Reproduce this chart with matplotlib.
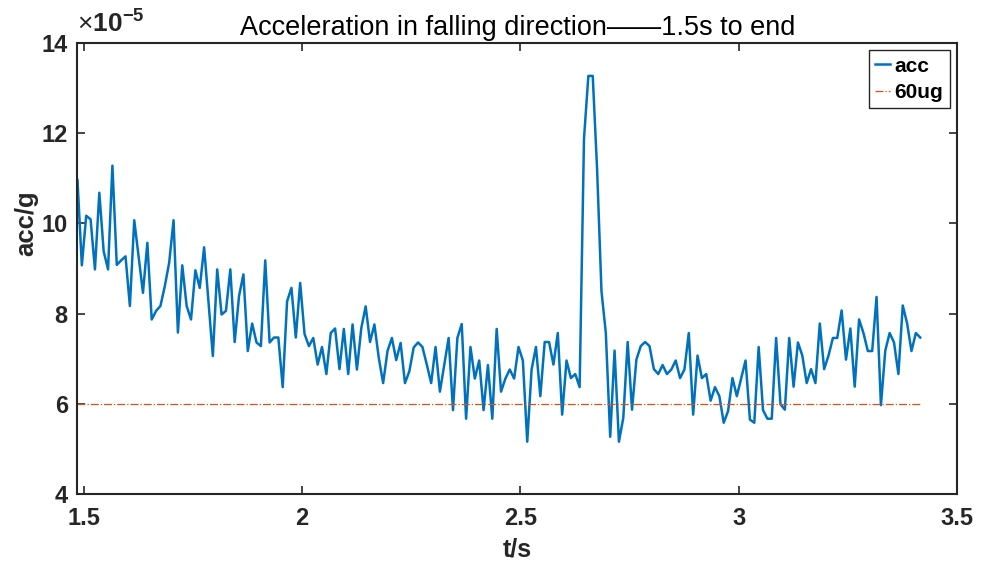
import numpy as np
import matplotlib
matplotlib.use("Agg")
import matplotlib.pyplot as plt

plt.rcParams['font.family'] = ['Liberation Sans', 'DejaVu Sans']
plt.rcParams['mathtext.fontset'] = 'custom'
plt.rcParams['mathtext.rm'] = 'Liberation Sans'
plt.rcParams['mathtext.bf'] = 'Liberation Sans:bold'

# sampling of the record (s)
t0 = 1.486
dt = 0.01

# acceleration in falling direction, units of 1e-5 g
acc = [10.96, 9.07, 10.17, 10.09, 8.98, 10.68, 9.38, 8.98, 11.28, 9.08,
       9.18, 9.27, 8.17, 10.07, 9.27, 8.46, 9.57, 7.87, 8.06, 8.17,
       8.61, 9.13, 10.07, 7.58, 9.07, 8.17, 7.87, 8.96, 8.57, 9.47,
       8.26, 7.06, 8.98, 7.98, 8.06, 8.98, 7.37, 8.39, 8.87, 7.17,
       7.78, 7.36, 7.28, 9.18, 7.36, 7.47, 7.47, 6.37, 8.27, 8.57,
       7.47, 8.68, 7.55, 7.28, 7.46, 6.87, 7.26, 6.66, 7.57, 7.67,
       6.77, 7.66, 6.66, 7.76, 6.76, 7.68, 8.16, 7.37, 7.76, 7.02,
       6.46, 7.17, 7.46, 6.97, 7.35, 6.46, 6.72, 7.25, 7.36, 7.26,
       6.87, 6.46, 7.26, 6.27, 6.87, 7.46, 5.86, 7.46, 7.77, 5.67,
       7.26, 6.56, 6.96, 5.86, 6.86, 5.67, 7.66, 6.27, 6.56, 6.76,
       6.56, 7.26, 6.96, 5.16, 6.76, 7.26, 6.17, 7.37, 7.37, 6.87,
       7.57, 5.76, 6.96, 6.57, 6.66, 6.37, 11.88, 13.27, 13.27, 11.2,
       8.5, 7.57, 5.27, 7.18, 5.16, 5.69, 7.37, 5.87, 6.98, 7.28,
       7.37, 7.28, 6.77, 6.66, 6.86, 6.66, 6.76, 6.96, 6.57, 6.76,
       7.57, 5.76, 7.07, 6.57, 6.66, 6.07, 6.37, 6.17, 5.58, 5.84,
       6.57, 6.17, 6.57, 6.96, 5.65, 5.58, 7.26, 5.86, 5.67, 5.67,
       7.46, 5.99, 5.87, 7.46, 6.38, 7.36, 7.07, 6.46, 6.77, 6.46,
       7.78, 6.77, 7.07, 7.46, 7.46, 8.07, 6.98, 7.67, 6.38, 7.87,
       7.57, 7.17, 7.17, 8.37, 5.97, 7.18, 7.57, 7.36, 6.66, 8.18,
       7.78, 7.17, 7.57, 7.47]
limit_ug = 60  # 60 ug threshold

xticks = [1.5, 2, 2.5, 3, 3.5]
yticks = [4, 6, 8, 10, 12, 14]

t = t0 + dt * np.arange(len(acc))
a = np.array(acc) * 1e-5
lim = np.full(len(t), limit_ug * 1e-6)

fig = plt.figure(figsize=(9.87, 5.67), dpi=100)
ax = fig.add_axes([0.0785, 0.1287, 0.891, 0.7955])

ax.plot(t, a, color='#0072BD', lw=1.8, label='acc')
ax.plot(t, lim, color='#D95319', lw=0.9, ls='-.', label='60ug')

ax.set_xlim(t0, 3.5)
ax.set_ylim(4e-5, 14e-5)
ax.set_xticks(xticks)
ax.set_xticklabels([f'{v:g}' for v in xticks])
ax.set_yticks([v * 1e-5 for v in yticks])
ax.set_yticklabels([f'{v:g}' for v in yticks])

dark = '#262626'
for s in ax.spines.values():
    s.set_linewidth(1.5)
    s.set_color(dark)
ax.tick_params(direction='in', length=6, width=1.2, top=True, right=True,
               labelsize=17, colors=dark)
ax.tick_params(axis='x', pad=9)
ax.tick_params(axis='y', pad=7)
for lbl in ax.get_xticklabels() + ax.get_yticklabels():
    lbl.set_fontweight('bold')

ax.text(0.0, 1.015, r'$\times\mathbf{10}^{\mathbf{-5}}$', transform=ax.transAxes,
        fontsize=19, color=dark, ha='left', va='bottom')

ax.set_title('Acceleration in falling direction——1.5s to end', fontsize=19.5,
             color='black', pad=6)
ax.set_xlabel('t/s', fontsize=18, fontweight='bold', color=dark, labelpad=6)
ax.set_ylabel('acc/g', fontsize=18.5, fontweight='bold', color=dark)
ax.yaxis.set_label_coords(-0.045, 0.6)

leg = ax.legend(loc='upper right', prop={'weight': 'bold', 'size': 15},
                handlelength=0.75, handletextpad=0.2, borderpad=0.3,
                labelspacing=0.35, borderaxespad=0.35, fancybox=False, framealpha=1)
leg.get_frame().set_edgecolor(dark)
leg.get_frame().set_linewidth(1.0)

fig.savefig('out.png', dpi=100)
